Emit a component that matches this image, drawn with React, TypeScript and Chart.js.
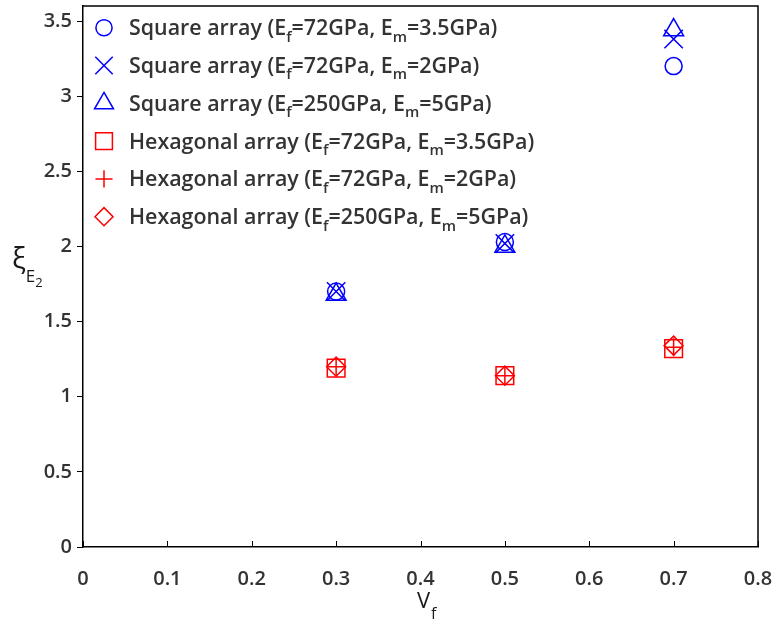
import React, { useEffect, useRef } from 'react';
import { Chart, registerables } from 'chart.js';

Chart.register(...registerables);

// ---------- data ----------
const xValues = [0.3, 0.5, 0.7];
const squareEf72Em35 = [1.7, 2.03, 3.2];
const squareEf72Em2 = [1.7, 2.02, 3.38];
const squareEf250Em5 = [1.68, 2.0, 3.44];
const hexEf72Em35 = [1.19, 1.14, 1.32];
const hexEf72Em2 = [1.2, 1.14, 1.33];
const hexEf250Em5 = [1.2, 1.14, 1.34];

const seriesLabels = [
  'Square array (E_f=72GPa, E_m=3.5GPa)',
  'Square array (E_f=72GPa, E_m=2GPa)',
  'Square array (E_f=250GPa, E_m=5GPa)',
  'Hexagonal array (E_f=72GPa, E_m=3.5GPa)',
  'Hexagonal array (E_f=72GPa, E_m=2GPa)',
  'Hexagonal array (E_f=250GPa, E_m=5GPa)',
];

const xTicks = [0, 0.1, 0.2, 0.3, 0.4, 0.5, 0.6, 0.7, 0.8];
const xTickLabels = ['0', '0.1', '0.2', '0.3', '0.4', '0.5', '0.6', '0.7', '0.8'];
const yTicks = [0, 0.5, 1, 1.5, 2, 2.5, 3, 3.5];
const yTickLabels = ['0', '0.5', '1', '1.5', '2', '2.5', '3', '3.5'];

// ---------- styles ----------
const FONT = '"Open Sans", sans-serif';
const TEXT = '#333333';
const BLUE = '#0000ff';
const RED = '#ff0000';

const seriesValues = [squareEf72Em35, squareEf72Em2, squareEf250Em5, hexEf72Em35, hexEf72Em2, hexEf250Em5];
const seriesStyle = [
  { style: 'circle', color: BLUE, r: 8.5 },
  { style: 'crossRot', color: BLUE, r: 13 },
  { style: 'triangle', color: BLUE, r: 11.5 },
  { style: 'rect', color: RED, r: 12.5 },
  { style: 'cross', color: RED, r: 9 },
  { style: 'rectRot', color: RED, r: 9.5 },
];

function drawRich(ctx: CanvasRenderingContext2D, text: string, x: number, y: number, size: number, weight: string, subScale = 0.7, subDrop = 0.3) {
  let cx = x;
  let i = 0;
  while (i < text.length) {
    if (text[i] === '_' && i + 1 < text.length) {
      ctx.font = `${weight} ${size * subScale}px ${FONT}`;
      ctx.fillText(text[i + 1], cx, y + size * subDrop);
      cx += ctx.measureText(text[i + 1]).width;
      i += 2;
    } else {
      let j = i;
      while (j < text.length && text[j] !== '_') j++;
      const seg = text.slice(i, j);
      ctx.font = `${weight} ${size}px ${FONT}`;
      ctx.fillText(seg, cx, y);
      cx += ctx.measureText(seg).width;
      i = j;
    }
  }
  return cx;
}

function drawMarker(ctx: CanvasRenderingContext2D, style: string, r: number, x: number, y: number) {
  ctx.beginPath();
  if (style === 'circle') {
    ctx.arc(x, y, r, 0, Math.PI * 2);
  } else if (style === 'crossRot') {
    const d = r * Math.SQRT1_2;
    ctx.moveTo(x - d, y - d); ctx.lineTo(x + d, y + d);
    ctx.moveTo(x + d, y - d); ctx.lineTo(x - d, y + d);
  } else if (style === 'triangle') {
    const a = (2 * Math.PI) / 3;
    ctx.moveTo(x, y - r);
    ctx.lineTo(x + Math.sin(a) * r, y - Math.cos(a) * r);
    ctx.lineTo(x + Math.sin(2 * a) * r, y - Math.cos(2 * a) * r);
    ctx.closePath();
  } else if (style === 'rect') {
    const s = r * Math.SQRT1_2;
    ctx.rect(x - s, y - s, 2 * s, 2 * s);
  } else if (style === 'cross') {
    ctx.moveTo(x - r, y); ctx.lineTo(x + r, y);
    ctx.moveTo(x, y - r); ctx.lineTo(x, y + r);
  } else if (style === 'rectRot') {
    ctx.moveTo(x - r, y); ctx.lineTo(x, y - r); ctx.lineTo(x + r, y); ctx.lineTo(x, y + r);
    ctx.closePath();
  }
  ctx.stroke();
}

const decorPlugin = {
  id: 'decor',
  beforeDatasetsDraw(chart: any) {
    const { ctx, chartArea } = chart;
    const xs = chart.scales.x;
    ctx.save();
    ctx.strokeStyle = '#000';
    ctx.lineWidth = 1.5;
    ctx.beginPath();
    ctx.moveTo(chartArea.left, chartArea.top);
    ctx.lineTo(chartArea.right, chartArea.top);
    ctx.lineTo(chartArea.right, chartArea.bottom);
    ctx.stroke();
    // inward x ticks
    ctx.lineWidth = 1;
    ctx.beginPath();
    for (const v of xTicks) {
      const px = Math.round(xs.getPixelForValue(v)) + 0.5;
      ctx.moveTo(px, chartArea.bottom);
      ctx.lineTo(px, chartArea.bottom - 6);
    }
    ctx.stroke();
    ctx.restore();
  },
  afterDraw(chart: any) {
    const { ctx } = chart;
    ctx.save();
    ctx.textBaseline = 'alphabetic';
    ctx.textAlign = 'left';
    // legend
    seriesLabels.forEach((lab, i) => {
      const cy = 27.7 + i * 37.8;
      const st = seriesStyle[i];
      ctx.strokeStyle = st.color;
      ctx.lineWidth = 1.5;
      drawMarker(ctx, st.style, st.r * 0.95, 104, cy);
      ctx.fillStyle = TEXT;
      drawRich(ctx, lab, 129, cy + 7.5, 21.4, '600', 0.7, 0.3);
    });
    // y title
    ctx.fillStyle = '#1a1a1a';
    ctx.font = `29px ${FONT}`;
    ctx.fillText('ξ', 12, 268);
    let cx = 12 + ctx.measureText('ξ').width;
    ctx.font = `17px ${FONT}`;
    ctx.fillText('E', cx, 282);
    cx += ctx.measureText('E').width;
    ctx.font = `13px ${FONT}`;
    ctx.fillText('2', cx, 287);
    // x title
    ctx.font = `22px ${FONT}`;
    ctx.fillText('V', 417, 608);
    const vx = 417 + ctx.measureText('V').width;
    ctx.font = `16px ${FONT}`;
    ctx.fillText('f', vx + 1, 619);
    ctx.restore();
  },
};

export default function App() {
  const ref = useRef<HTMLCanvasElement>(null);
  useEffect(() => {
    if (!ref.current) return;
    const datasets = seriesValues.map((vals, i) => ({
      label: seriesLabels[i],
      data: xValues.map((x, k) => ({ x, y: vals[k] })),
      showLine: false,
      pointStyle: seriesStyle[i].style,
      pointRadius: seriesStyle[i].r,
      pointHoverRadius: seriesStyle[i].r,
      borderColor: seriesStyle[i].color,
      backgroundColor: 'rgba(0,0,0,0)',
      pointBorderWidth: 1.5,
    }));
    const chart = new Chart(ref.current, {
      type: 'scatter',
      data: { datasets } as any,
      options: {
        animation: false,
        responsive: true,
        maintainAspectRatio: false,
        layout: { autoPadding: false, padding: { top: 6, right: 22, left: 0, bottom: 0 } },
        plugins: { legend: { display: false }, tooltip: { enabled: false } },
        scales: {
          x: {
            type: 'linear',
            min: 0,
            max: 0.8,
            afterBuildTicks: (s: any) => { s.ticks = xTicks.map((v) => ({ value: v })); },
            afterFit: (s: any) => { s.height = 83; s.paddingLeft = 0; s.paddingRight = 0; },
            grid: { display: true, drawOnChartArea: false, drawTicks: false, color: '#000' },
            border: { display: true, color: '#000', width: 1.5 },
            ticks: {
              padding: 20,
              color: TEXT,
              font: { family: '"Open Sans", sans-serif', size: 20, weight: '600' },
              maxRotation: 0,
              callback: (_v: any, idx: number) => xTickLabels[idx],
            },
          },
          y: {
            type: 'linear',
            min: 0,
            max: 3.6,
            afterBuildTicks: (s: any) => { s.ticks = yTicks.map((v) => ({ value: v })); },
            afterFit: (s: any) => { s.width = 83; s.paddingTop = 0; s.paddingBottom = 0; },
            grid: { display: true, drawOnChartArea: false, drawTicks: true, tickLength: 6, color: '#000' },
            border: { display: true, color: '#000', width: 1.5 },
            ticks: {
              padding: 5,
              color: TEXT,
              font: { family: '"Open Sans", sans-serif', size: 20, weight: '600' },
              callback: (_v: any, idx: number) => yTickLabels[idx],
            },
          },
        },
      },
      plugins: [decorPlugin],
    } as any);
    return () => chart.destroy();
  }, []);
  return (
    <div style={{ position: 'absolute', left: 0, top: 0, width: 780, height: 630, background: '#fff' }}>
      <canvas ref={ref} />
    </div>
  );
}
